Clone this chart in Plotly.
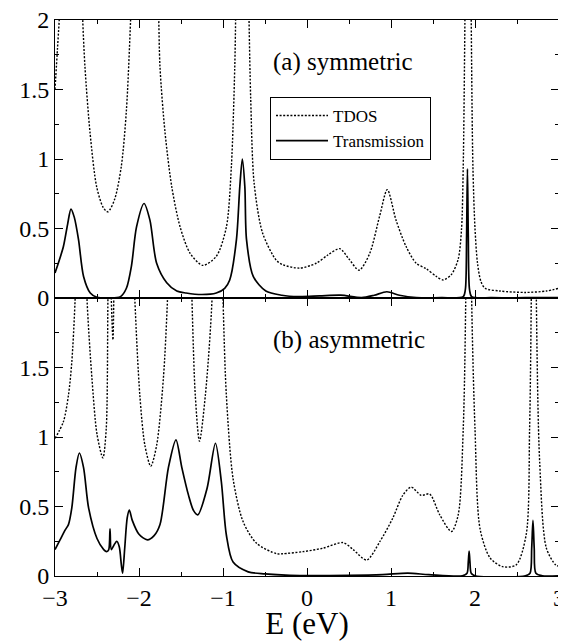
import plotly.graph_objects as go

# ---------------- data ----------------
# Panel (a) symmetric: TDOS (values > 2 are off-scale, clipped)
tdos_a_E = [-3.00, -2.97, -2.95, -2.90, -2.80, -2.70, -2.67, -2.643, -2.583, -2.504, -2.425, -2.37,
            -2.29, -2.21, -2.15, -2.10, -2.03, -1.95, -1.85, -1.77, -1.75, -1.69, -1.61, -1.51,
            -1.39, -1.24, -1.08, -0.96, -0.90, -0.86, -0.85, -0.80, -0.75, -0.69, -0.67, -0.63,
            -0.53, -0.37, -0.29, -0.087, 0.11, 0.25, 0.39, 0.50, 0.62, 0.746, 0.865, 0.956,
            1.06, 1.18, 1.30, 1.42, 1.54, 1.62, 1.72, 1.80, 1.84, 1.86, 1.88, 1.92, 1.955,
            1.975, 2.00, 2.03, 2.07, 2.12, 2.30, 2.60, 2.85, 3.00]
tdos_a_v = [1.50, 1.80, 2.00, 2.80, 4.00, 2.60, 2.00, 1.66, 1.19, 0.80, 0.65, 0.62,
            0.71, 0.95, 1.35, 2.00, 3.20, 4.50, 3.00, 2.10, 1.66, 1.19, 0.80, 0.51,
            0.32, 0.235, 0.30, 0.51, 0.95, 1.66, 2.00, 4.50, 4.50, 2.00, 1.43, 0.83,
            0.47, 0.275, 0.24, 0.215, 0.25, 0.31, 0.355, 0.28, 0.20, 0.32, 0.59, 0.78,
            0.56, 0.37, 0.25, 0.21, 0.155, 0.13, 0.17, 0.28, 0.50, 0.95, 2.00, 5.00, 2.00,
            0.95, 0.50, 0.25, 0.12, 0.07, 0.05, 0.04, 0.05, 0.07]

# Panel (a) symmetric: Transmission
trans_a_E = [-3.00, -2.95, -2.90, -2.85, -2.81, -2.77, -2.72, -2.66, -2.58, -2.50, -2.35, -2.22,
             -2.15, -2.09, -2.03, -1.94, -1.87, -1.79, -1.67, -1.55, -1.44, -1.25, -1.08,
             -0.98, -0.92, -0.84, -0.80, -0.77, -0.74, -0.72, -0.64, -0.49, -0.30, -0.10,
             0.15, 0.40, 0.65, 0.80, 0.95, 1.10, 1.30, 1.60, 1.86, 1.885, 1.90, 1.91,
             1.92, 1.935, 1.96, 2.20, 2.60, 3.00]
trans_a_v = [0.18, 0.27, 0.37, 0.53, 0.64, 0.58, 0.42, 0.155, 0.036, 0.005, 0.00, 0.01,
             0.07, 0.23, 0.51, 0.68, 0.56, 0.25, 0.11, 0.05, 0.036, 0.025, 0.036,
             0.07, 0.13, 0.42, 0.80, 1.00, 0.80, 0.42, 0.155, 0.05, 0.02, 0.01,
             0.015, 0.02, 0.003, 0.02, 0.045, 0.02, 0.003, 0.002, 0.01, 0.06, 0.45, 0.93,
             0.45, 0.06, 0.01, 0.002, 0.002, 0.002]

# Panel (b) asymmetric: TDOS
tdos_b_E = [-3.00, -2.90, -2.84, -2.80, -2.76, -2.70, -2.62, -2.56, -2.50, -2.43, -2.39, -2.37,
            -2.35, -2.33, -2.31, -2.30, -2.28, -2.20, -2.10, -2.05, -1.99, -1.93, -1.86, -1.79,
            -1.71, -1.66, -1.55, -1.45, -1.37, -1.33, -1.28, -1.21, -1.13, -1.07, -1.00, -0.96,
            -0.88, -0.76, -0.60, -0.36, -0.29, -0.05, 0.19, 0.43, 0.55, 0.71, 0.87, 1.02,
            1.14, 1.24, 1.36, 1.46, 1.58, 1.72, 1.80, 1.86, 1.89, 1.925, 1.96, 2.00, 2.06,
            2.18, 2.33, 2.49, 2.61, 2.65, 2.67, 2.70, 2.73, 2.77, 2.85, 2.96, 3.00]
tdos_b_v = [0.99, 1.11, 1.30, 1.54, 2.00, 3.50, 2.00, 1.42, 1.02, 0.85, 1.06, 2.00,
            3.00, 2.00, 1.70, 2.00, 3.00, 4.00, 3.00, 2.00, 1.30, 0.94, 0.79, 0.94,
            1.42, 2.00, 4.00, 4.00, 2.00, 1.30, 0.97, 1.30, 2.00, 4.00, 2.00, 1.30,
            0.70, 0.39, 0.235, 0.16, 0.16, 0.175, 0.20, 0.24, 0.19, 0.115, 0.25, 0.415,
            0.58, 0.64, 0.58, 0.59, 0.44, 0.32, 0.44, 1.06, 2.00, 5.00, 2.00, 1.06, 0.34,
            0.13, 0.067, 0.08, 0.30, 1.06, 2.00, 5.00, 2.00, 0.82, 0.20, 0.08, 0.07]

# Panel (b) asymmetric: Transmission
trans_b_E = [-3.00, -2.94, -2.88, -2.84, -2.80, -2.75, -2.71, -2.66, -2.60, -2.50, -2.42, -2.385,
             -2.36, -2.345, -2.33, -2.30, -2.265, -2.235, -2.21, -2.195, -2.17, -2.14, -2.115,
             -2.08, -2.00, -1.90, -1.82, -1.75, -1.65, -1.56, -1.49, -1.41, -1.35, -1.30,
             -1.19, -1.09, -1.02, -0.96, -0.88, -0.70, -0.50, -0.20, 0.50, 0.90, 1.20, 1.45,
             1.85, 1.905, 1.92, 1.93, 1.94, 1.955, 2.00, 2.60, 2.655, 2.675, 2.69, 2.705,
             2.725, 2.80, 3.00]
trans_b_v = [0.19, 0.26, 0.33, 0.37, 0.49, 0.78, 0.885, 0.78, 0.49, 0.27, 0.19, 0.175,
             0.19, 0.34, 0.19, 0.22, 0.25, 0.21, 0.08, 0.02, 0.20, 0.42, 0.475,
             0.40, 0.30, 0.26, 0.29, 0.37, 0.78, 0.98, 0.78, 0.58, 0.47, 0.44,
             0.63, 0.955, 0.68, 0.295, 0.10, 0.03, 0.015, 0.005, 0.005, 0.01, 0.02, 0.01,
             0.002, 0.02, 0.10, 0.18, 0.10, 0.02, 0.002, 0.002, 0.02, 0.20, 0.40, 0.20,
             0.02, 0.002, 0.002]

x_ticks = [-3, -2, -1, 0, 1, 2, 3]
x_minor = [-2.5, -1.5, -0.5, 0.5, 1.5, 2.5]
y_ticks_a = [0, 0.5, 1, 1.5, 2]
y_ticks_b = [0, 0.5, 1, 1.5]
y_minor = [0.25, 0.75, 1.25, 1.75]

FONT = "Liberation Serif, Times New Roman, serif"
dot_style = dict(color="black", width=1.4, dash="2px,1.6px")
solid_style = dict(color="black", width=1.7)

fig = go.Figure()
fig.add_trace(go.Scatter(x=tdos_a_E, y=tdos_a_v, mode="lines", name="TDOS",
                         line=dict(shape="spline", smoothing=0.8, **dot_style),
                         xaxis="x", yaxis="y"))
fig.add_trace(go.Scatter(x=trans_a_E, y=trans_a_v, mode="lines", name="Transmission",
                         line=dict(shape="spline", smoothing=0.8, **solid_style),
                         xaxis="x", yaxis="y"))
fig.add_trace(go.Scatter(x=tdos_b_E, y=tdos_b_v, mode="lines", name="TDOS", showlegend=False,
                         line=dict(shape="spline", smoothing=0.8, **dot_style),
                         xaxis="x2", yaxis="y2"))
fig.add_trace(go.Scatter(x=trans_b_E, y=trans_b_v, mode="lines", name="Transmission",
                         showlegend=False,
                         line=dict(shape="spline", smoothing=0.8, **solid_style),
                         xaxis="x2", yaxis="y2"))

axis_common = dict(showline=True, linecolor="black", linewidth=1, mirror="ticks",
                   ticks="inside", ticklen=8, tickwidth=1, tickcolor="black",
                   showgrid=False, zeroline=False, automargin=False,
                   ticklabeloverflow="allow",
                   tickfont=dict(family=FONT, size=24, color="black"))

def fmt(v):
    return str(int(v)) if v == int(v) else str(v)

# The page body has an 8px margin, so the figure is 8px smaller on each
# axis and its left/top margins are reduced by 8px.
fig.update_layout(
    width=558, height=633,
    margin=dict(l=47, r=7, t=12, b=65),
    paper_bgcolor="white", plot_bgcolor="white",
    font=dict(family=FONT, color="black"),
    xaxis=dict(domain=[0, 1], anchor="y", range=[-3, 3], tickvals=x_ticks,
               showticklabels=False,
               minor=dict(tickvals=x_minor, ticks="inside", ticklen=4, tickcolor="black"),
               **axis_common),
    yaxis=dict(domain=[0.5, 1], anchor="x", range=[0, 2], tickvals=y_ticks_a,
               ticktext=[fmt(v) for v in y_ticks_a],
               minor=dict(tickvals=y_minor, ticks="inside", ticklen=4, tickcolor="black"),
               **axis_common),
    xaxis2=dict(domain=[0, 1], anchor="y2", range=[-3, 3], tickvals=x_ticks,
                minor=dict(tickvals=x_minor, ticks="inside", ticklen=4, tickcolor="black"),
                title=dict(text="E (eV)", font=dict(family=FONT, size=31, color="black"),
                           standoff=8),
                **axis_common),
    yaxis2=dict(domain=[0, 0.5], anchor="x2", range=[0, 2], tickvals=y_ticks_b,
                ticktext=[fmt(v) for v in y_ticks_b],
                minor=dict(tickvals=y_minor, ticks="inside", ticklen=4, tickcolor="black"),
                **axis_common),
    legend=dict(x=0.4266, y=0.8615, xanchor="left", yanchor="top",
                bordercolor="black", borderwidth=1, bgcolor="white",
                font=dict(family=FONT, size=17, color="black"),
                itemwidth=52, tracegroupgap=0),
    showlegend=True,
    annotations=[
        dict(text="(a) symmetric", x=0.43, y=1.70, xref="x", yref="y", showarrow=False,
             font=dict(family=FONT, size=25, color="black")),
        dict(text="(b) asymmetric", x=0.50, y=1.70, xref="x2", yref="y2", showarrow=False,
             font=dict(family=FONT, size=25, color="black")),
    ],
)

fig.write_html("out.html")
